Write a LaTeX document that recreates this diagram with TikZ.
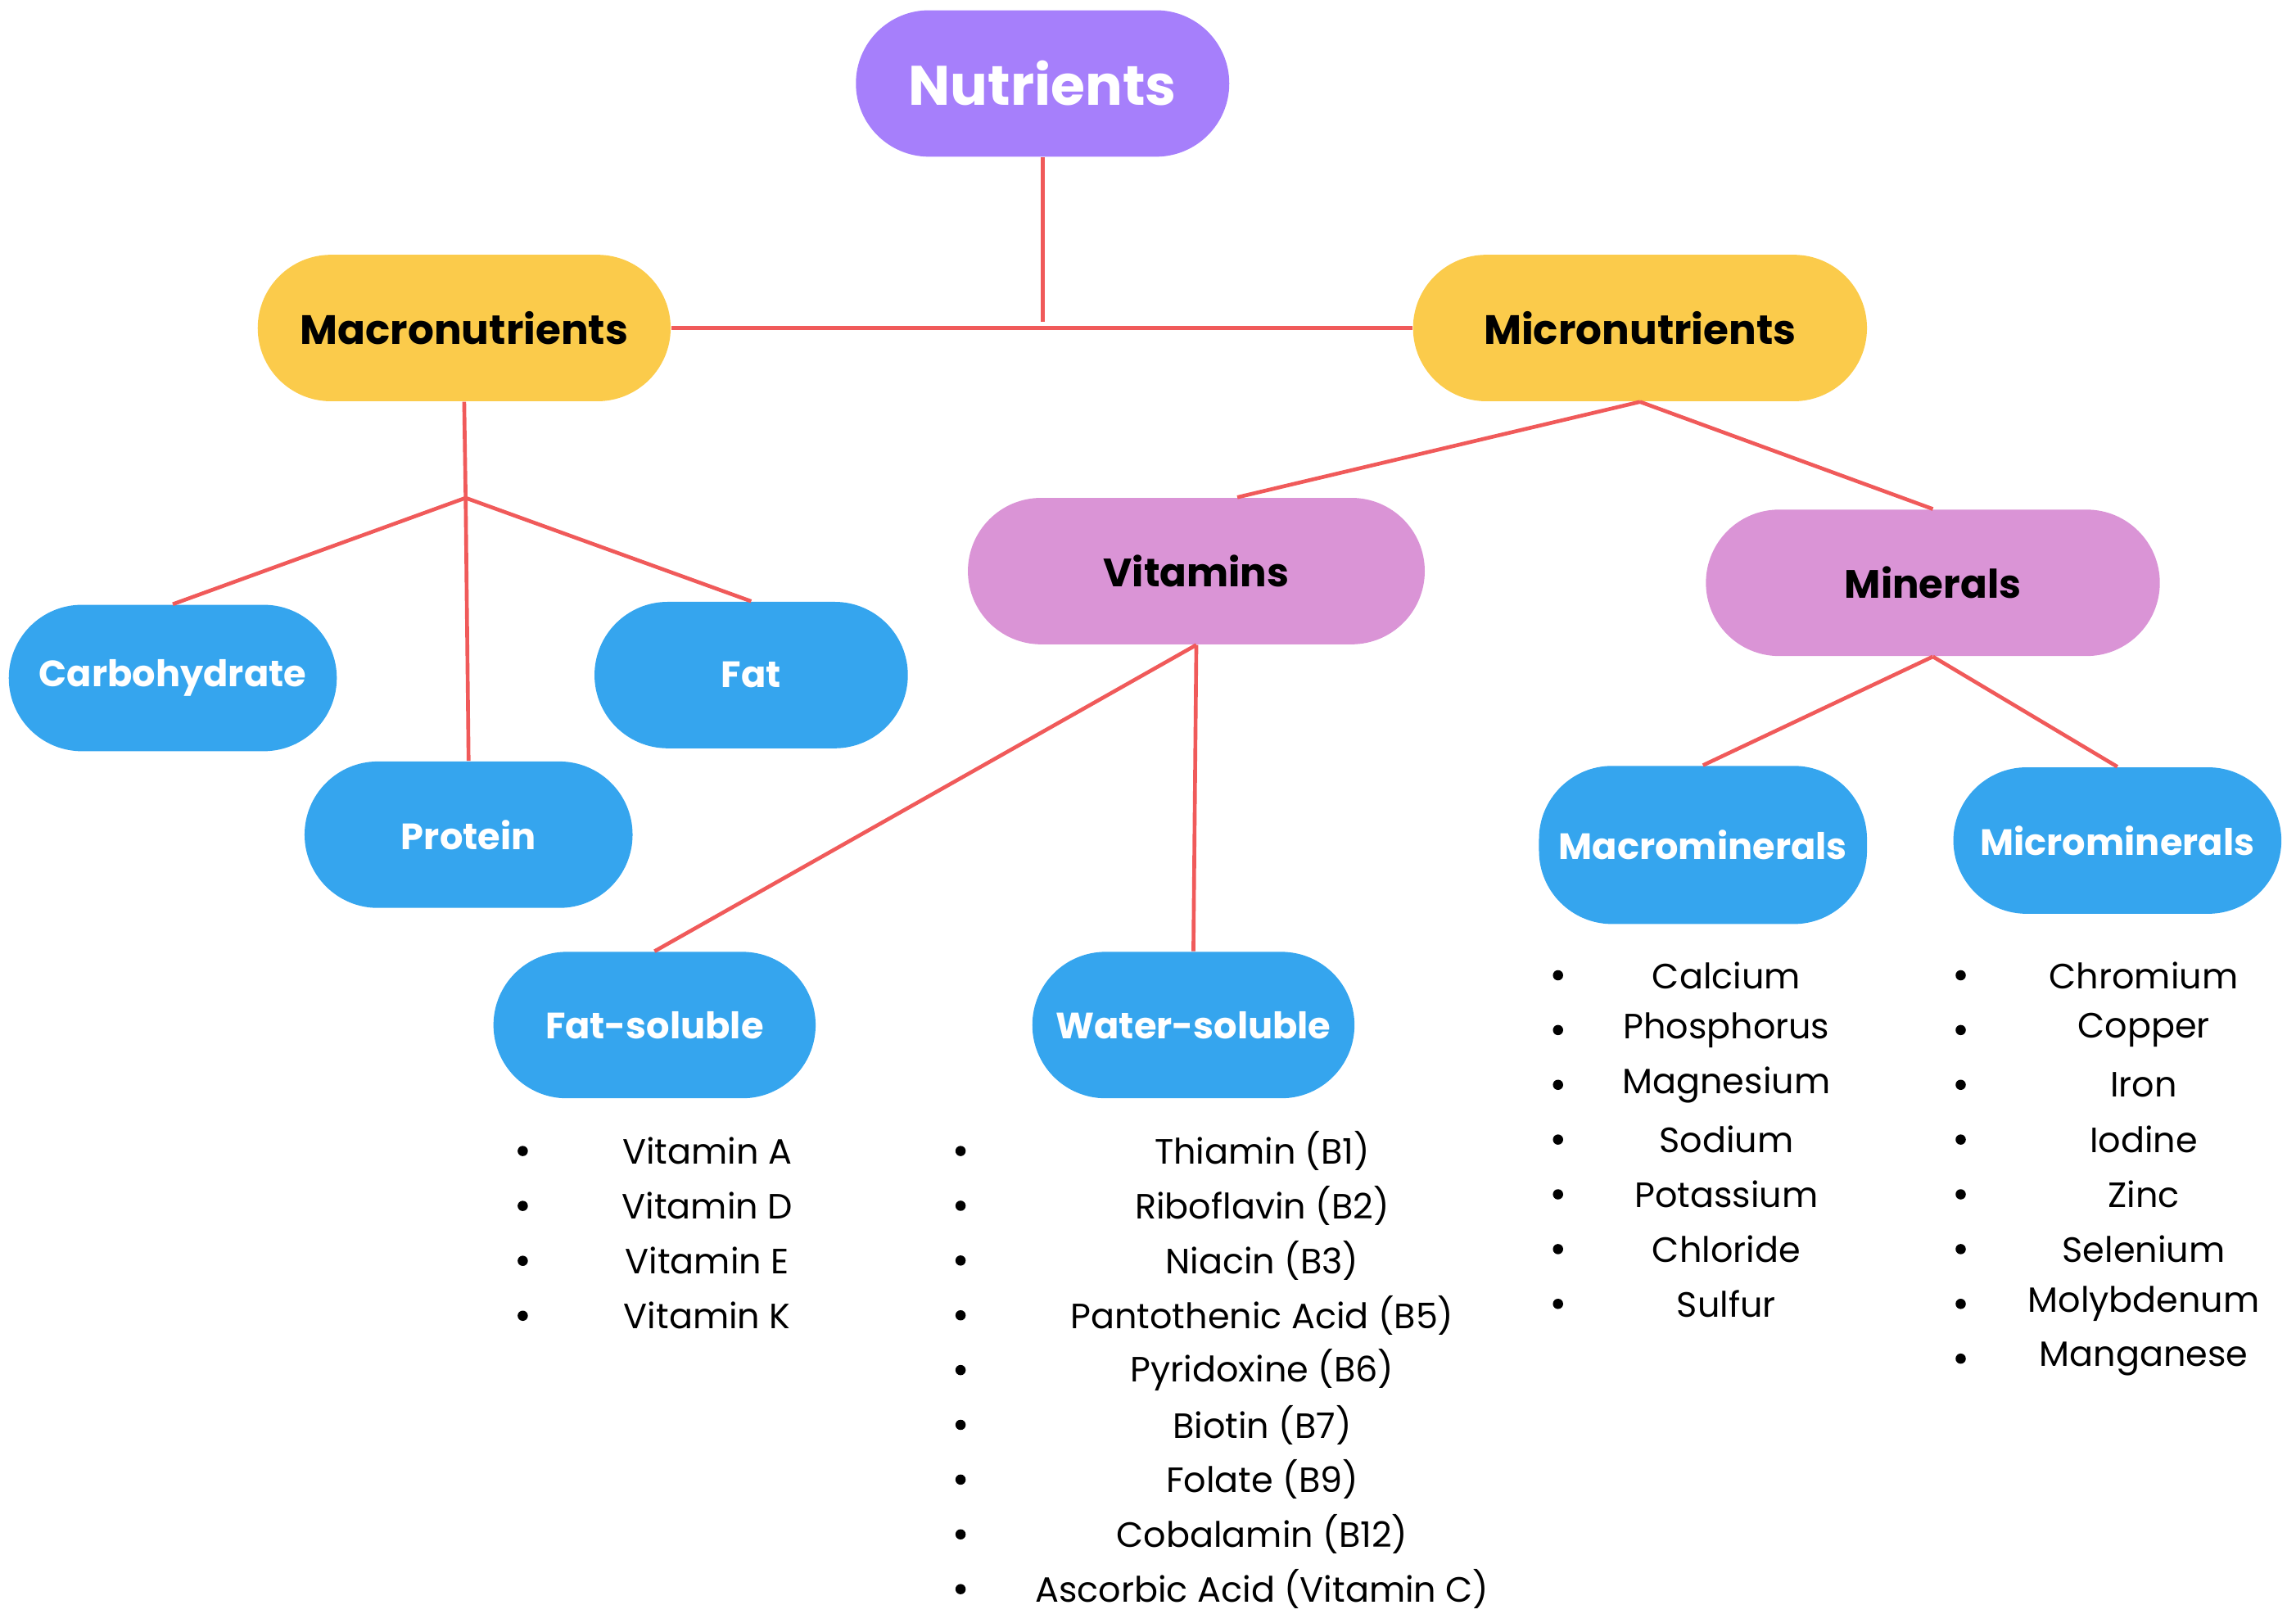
\documentclass[tikz,border=0pt]{standalone}
\usepackage{fontspec}
\setmainfont{Poppins}
\begin{document}
\begin{tikzpicture}[x=0.5pt,y=-0.5pt,
 box/.style={rounded rectangle, minimum height=50pt, inner sep=0pt, font=\bfseries},
 pur/.style={box, fill={rgb,255:red,166;green,127;blue,251}, text=white, font=\bfseries\fontsize{19}{22}\selectfont},
 yel/.style={box, fill={rgb,255:red,251;green,203;blue,75}, text=black, font=\bfseries\fontsize{14}{17}\selectfont},
 pnk/.style={box, fill={rgb,255:red,218;green,148;blue,214}, text=black, font=\bfseries\fontsize{13.5}{16}\selectfont},
 blu/.style={box, fill={rgb,255:red,53;green,165;blue,238}, text=white, font=\bfseries\fontsize{12.5}{15}\selectfont},
 ln/.style={draw={rgb,255:red,240;green,90;blue,90}, line width=1.3pt},
 li/.style={font=\fontsize{12}{14}\selectfont, anchor=center},
 bul/.style={circle, fill=black, inner sep=0pt, minimum size=3.5pt}]
\useasboundingbox (0,0) rectangle (1568,1102);
\tikzset{rounded rectangle/.style={rectangle, rounded corners=25pt}}
\node[pur, minimum width=127.5pt] (nut) at (712,57) {Nutrients};
\node[yel, minimum width=141pt] (mac) at (317,224) {Macronutrients};
\node[yel, minimum width=155pt] (mic) at (1120,224) {Micronutrients};
\node[pnk, minimum width=156pt] (vit) at (817,390) {Vitamins};
\node[pnk, minimum width=155pt] (min) at (1320,398) {Minerals};
\node[blu, minimum width=112pt] (carb) at (118,463) {Carbohydrate};
\node[blu, minimum width=107pt] (fat) at (513,461) {Fat};
\node[blu, minimum width=112pt] (pro) at (320,570) {Protein};
\node[blu, minimum width=110pt] (fs) at (447,700) {Fat-soluble};
\node[blu, minimum width=110pt] (ws) at (815,700) {Water-soluble};
\node[blu, minimum width=112pt, minimum height=54pt] (mam) at (1163,577) {Macrominerals};
\node[blu, minimum width=112pt] (mim) at (1446,574) {Microminerals};
\coordinate (top) at (712,220);
\coordinate (j1) at (318,340);
\draw[ln] (nut.south) -- (top);
\draw[ln] (mac.east) -- (mic.west);
\draw[ln] (mac.south) -- (j1);
\draw[ln] (j1) -- (carb.north);
\draw[ln] (j1) -- (fat.north);
\draw[ln] (j1) -- (pro.north);
\draw[ln] (mic.south) -- ([xshift=14pt]vit.north);
\draw[ln] (mic.south) -- (min.north);
\draw[ln] (vit.south) -- (fs.north);
\draw[ln] (vit.south) -- (ws.north);
\draw[ln] (min.south) -- (mam.north);
\draw[ln] (min.south) -- (mim.north);
\foreach \t [count=\i from 0] in {Vitamin A,Vitamin D,Vitamin E,Vitamin K}{
 \node[bul] (fb\i) at (357,786+37.5*\i) {};
 \node[li] (ft\i) at (483,786+37.5*\i) {\t};}
\foreach \t [count=\i from 0] in {Thiamin (B1),Riboflavin (B2),Niacin (B3),Pantothenic Acid (B5),Pyridoxine (B6),Biotin (B7),Folate (B9),Cobalamin (B12),Ascorbic Acid (Vitamin C)}{
 \node[bul] (wb\i) at (656,786+37.4*\i) {};
 \node[li] (wt\i) at (862,786+37.4*\i) {\t};}
\foreach \t [count=\i from 0] in {Calcium,Phosphorus,Magnesium,Sodium,Potassium,Chloride,Sulfur}{
 \node[bul] (ab\i) at (1064,666+37.4*\i) {};
 \node[li] (at\i) at (1179,666+37.4*\i) {\t};}
\foreach \t [count=\i from 0] in {Chromium,Copper,Iron,Iodine,Zinc,Selenium,Molybdenum,Manganese}{
 \node[bul] (ib\i) at (1339,666+37.4*\i) {};
 \node[li] (it\i) at (1464,666+37.4*\i) {\t};}
\end{tikzpicture}
\end{document}
